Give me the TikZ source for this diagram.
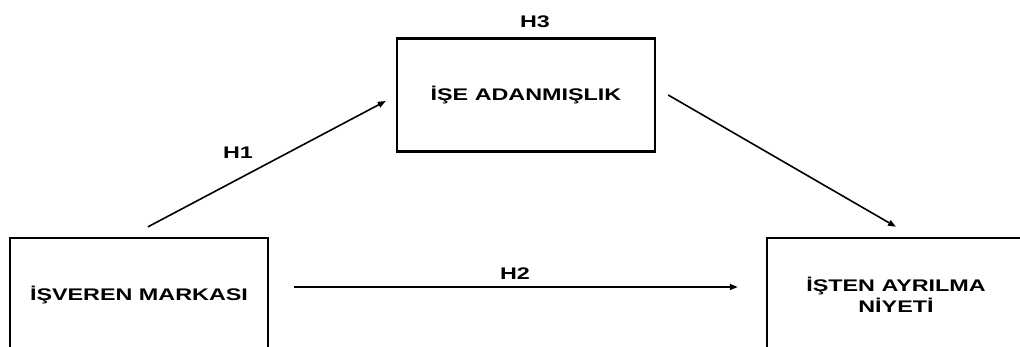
\documentclass[tikz,border=0pt]{standalone}
\usepackage{fontspec}
\newfontfamily\labfont{Liberation Sans}[FakeStretch=1.39]
\usetikzlibrary{arrows.meta}
\begin{document}
\begin{tikzpicture}[x=1pt,y=-1pt,
  every node/.style={font=\labfont\bfseries\fontsize{16.8}{21}\selectfont},
  varbox/.style={draw,line width=2.4pt,minimum width=258pt,minimum height=114pt,inner sep=0pt,align=center},
  hyp/.style={inner sep=0pt,anchor=base},
  link/.style={line width=1.6pt,-{Triangle[length=8pt,width=6pt]}}]
\clip (0,0) rectangle (1020,346);
% variables
\node[varbox] (isveren) at (139,295) {İŞVEREN MARKASI};
\node[varbox,minimum height=113pt] (adanmis) at (526,95) {İŞE ADANMIŞLIK};
\node[varbox] (ayrilma) at (896,295) {İŞTEN AYRILMA\\NİYETİ};
% connector end points, offset from the boxes
\coordinate (h1a) at ([shift={(9,-10)}]isveren.north);
\coordinate (h1b) at ([shift={(-10,6)}]adanmis.west);
\coordinate (h3a) at ([shift={(12,0)}]adanmis.east);
\coordinate (h3b) at ([shift={(0,-10)}]ayrilma.north);
\coordinate (h2a) at ([shift={(25,-8)}]isveren.east);
\coordinate (h2b) at ([shift={(-28,-8)}]ayrilma.west);
\draw[link] (h1a) -- (h1b);
\draw[link] (h3a) -- (h3b);
\draw[link] (h2a) -- (h2b);
% hypothesis labels
\node[hyp] (lh1) at (238,158) {H1};
\node[hyp] (lh2) at (515,279) {H2};
\node[hyp] (lh3) at (535,27) {H3};
\end{tikzpicture}
\end{document}
